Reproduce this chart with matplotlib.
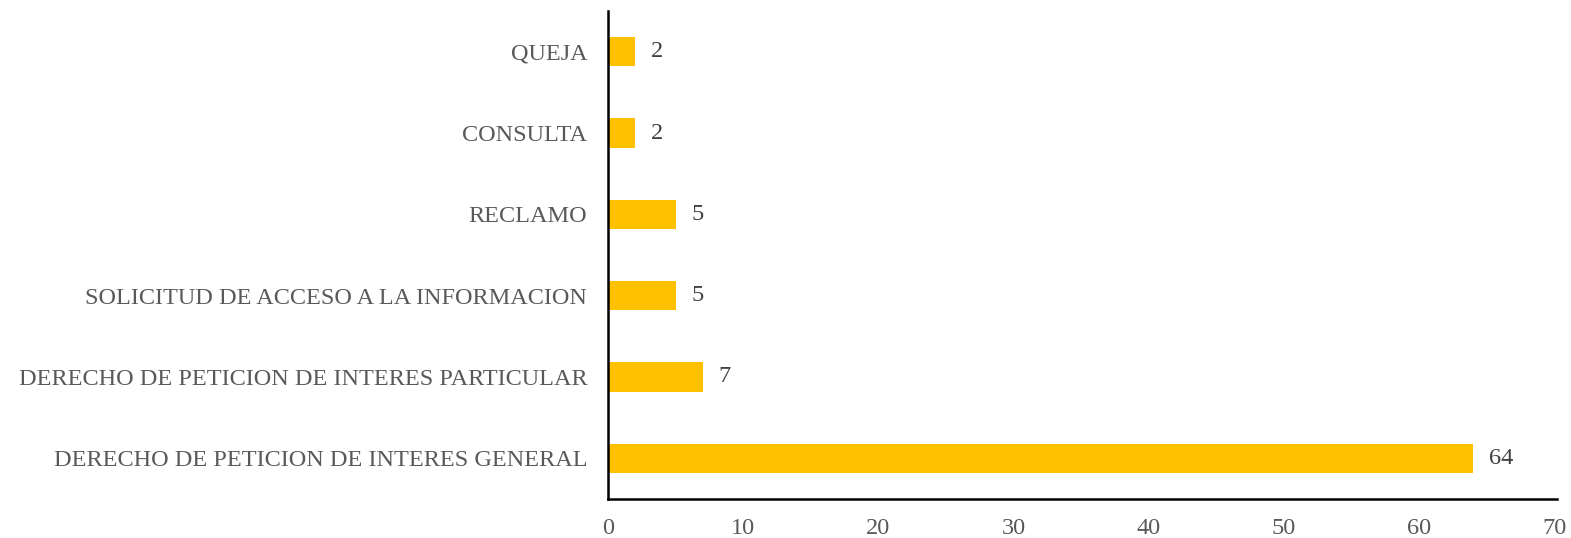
import matplotlib
matplotlib.use("Agg")
import matplotlib.pyplot as plt

categories = [
    "DERECHO DE PETICION DE INTERES GENERAL",
    "DERECHO DE PETICION DE INTERES PARTICULAR",
    "SOLICITUD DE ACCESO A LA INFORMACION",
    "RECLAMO",
    "CONSULTA",
    "QUEJA",
]
counts = [64, 7, 5, 5, 2, 2]
xticks = [0, 10, 20, 30, 40, 50, 60, 70]

plt.rcParams['font.family'] = ['Liberation Serif', 'DejaVu Serif']

fig = plt.figure(figsize=(15.71, 5.38), dpi=100)
ax = fig.add_axes([608 / 1571, 1 - 499 / 538, (1557 - 608) / 1571, (499 - 11) / 538])

pos = list(range(len(categories)))
ax.barh(pos, counts, height=0.36, color='#FFC000')
for p, v in zip(pos, counts):
    ax.text(v + 1.2, p, str(v), va='center', ha='left', fontsize=17.5, color='#404040')

ax.set_ylim(-0.5, len(categories) - 0.5)
ax.set_xlim(0, 70.2)
ax.set_yticks(pos)
ax.set_yticklabels(categories, fontsize=17.5, color='#595959')
ax.set_xticks(xticks)
ax.set_xticklabels([str(t) for t in xticks], fontsize=17.5, color='#595959')
ax.tick_params(axis='both', length=0)
ax.tick_params(axis='y', pad=15)
ax.tick_params(axis='x', pad=14)
for s in ['top', 'right']:
    ax.spines[s].set_visible(False)
for s in ['left', 'bottom']:
    ax.spines[s].set_linewidth(1.8)
    ax.spines[s].set_color('black')

fig.savefig('out.png', dpi=100)
